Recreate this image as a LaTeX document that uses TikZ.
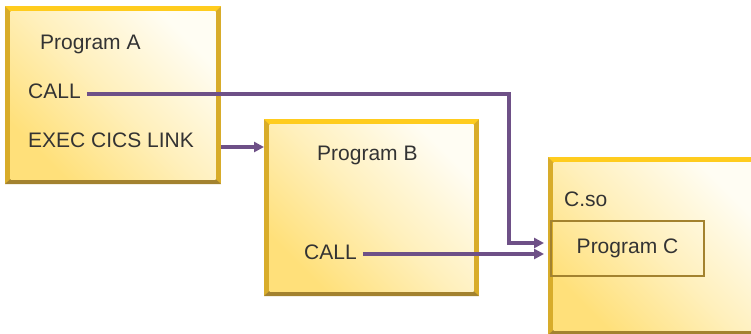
\documentclass[tikz,border=0pt]{standalone}
\usepackage{fontspec}
\setmainfont{Liberation Sans}
\usetikzlibrary{arrows.meta}
\definecolor{goldside}{HTML}{D8AC2A}
\definecolor{goldtop}{HTML}{FFCC1E}
\definecolor{goldbot}{HTML}{A3822F}
\definecolor{fillyel}{HTML}{FFE07A}
\definecolor{fillwht}{HTML}{FFFDF3}
\definecolor{arrowpurple}{HTML}{6E5087}
\definecolor{txtgray}{HTML}{333333}
\tikzset{
  boxnode/.style={inner sep=0pt, outer sep=0pt, minimum width=#1},
  lbl/.style={anchor=base west, inner sep=0pt, text=txtgray, font=\fontsize{21}{24}\selectfont},
  conn/.style={draw=arrowpurple, line width=3.3pt, -{Triangle[length=10pt,width=10pt]}},
  inner/.style={draw=goldbot, line width=2pt, inner sep=0pt, text=txtgray, font=\fontsize{21}{24}\selectfont},
}
\newcommand\bevelbox[1]{%
  \fill[goldside] (#1.south west) rectangle (#1.north east);
  \fill[goldtop] (#1.north west) -- (#1.north east) -- ([shift={(-5.5pt,-5.5pt)}]#1.north east) -- ([shift={(5.5pt,-5.5pt)}]#1.north west) -- cycle;
  \fill[goldbot] (#1.south west) -- (#1.south east) -- ([shift={(-5.5pt,5pt)}]#1.south east) -- ([shift={(5.5pt,5pt)}]#1.south west) -- cycle;
  \shade[top color=fillwht, bottom color=fillyel, middle color=fillyel!45!fillwht, shading angle=-45] ([shift={(5.5pt,5pt)}]#1.south west) rectangle ([shift={(-5.5pt,-5.5pt)}]#1.north east);
}
\begin{document}
\begin{tikzpicture}[x=1pt,y=1pt]
\useasboundingbox (0,0) rectangle (751,-333);
\fill[white] (0,0) rectangle (751,-333);
% boxes
\node[boxnode=216pt, minimum height=178pt] (A) at (113,-95) {};
\node[boxnode=215pt, minimum height=177pt] (B) at (371.5,-207.5) {};
\node[boxnode=212pt, minimum height=178pt] (cso) at (654,-246) {};
\bevelbox{A}
\bevelbox{B}
\bevelbox{cso}
% texts
\node[lbl] (progA) at (40,-49) {Program A};
\node[lbl] (callA) at (28,-98) {CALL};
\node[lbl] (exec) at (28,-147) {EXEC CICS LINK};
\node[lbl] (progB) at (317,-160) {Program B};
\node[lbl] (callB) at (304,-259) {CALL};
\node[lbl] (csotxt) at (564,-206) {C.so};
\node[inner, minimum width=153pt, minimum height=55pt] (progC) at (627.5,-248.5) {Program C};
% connectors
\coordinate (a1) at ([xshift=6pt,yshift=4pt]callA.base east);
\coordinate (k) at (509,-243);
\draw[conn, shorten >=4pt] (a1) -| (k) -- (k -| cso.west);
\draw[conn] (exec.base -| A.east) -- (exec.base -| B.west);
\coordinate (b1) at ([xshift=6pt,yshift=5pt]callB.base east);
\draw[conn, shorten >=4pt] (b1) -- (b1 -| cso.west);
\end{tikzpicture}
\end{document}
